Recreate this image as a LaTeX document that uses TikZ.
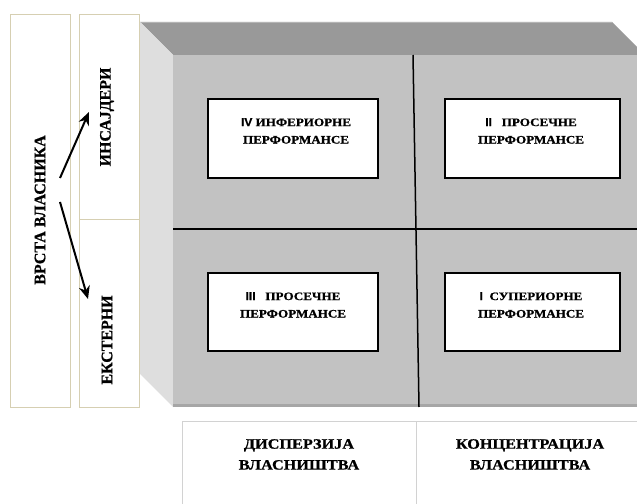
\documentclass[tikz,border=0pt]{standalone}
\usepackage{fontspec}
\setmainfont{Liberation Serif}
\newfontfamily\wideserif[UprightFont={Liberation Serif Bold}, FakeStretch=1.14, FakeBold=0.8]{Liberation Serif}
\newfontfamily\widesans[UprightFont={Liberation Sans Bold}, FakeStretch=1.05, FakeBold=0.6]{Liberation Sans}
\newfontfamily\boldserif[UprightFont={Liberation Serif Bold}, FakeBold=0.8]{Liberation Serif}
\usetikzlibrary{arrows.meta}
\definecolor{topface}{HTML}{999999}
\definecolor{topedge}{HTML}{B4B4B4}
\definecolor{sideface}{HTML}{DEDEDE}
\definecolor{frontface}{HTML}{C2C2C2}
\definecolor{shadowedge}{HTML}{A6A6A6}
\definecolor{panelline}{HTML}{D6CFB2}
\definecolor{tableline}{HTML}{D2D2D2}

\begin{document}
\begin{tikzpicture}[x=1bp,y=-1bp,
  panel/.style={draw=panelline, line width=1bp, fill=white},
  cell/.style={draw=tableline, line width=1bp, fill=white},
  quadbox/.style={draw=black, line width=1.6bp, fill=white},
  quadtext/.style={anchor=north, inner sep=0pt, align=center,
    font=\wideserif\fontsize{11.5}{17.5}\selectfont},
  sidetext/.style={rotate=90, inner sep=0pt,
    font=\boldserif\fontsize{16}{19}\selectfont},
  axistext/.style={anchor=north, inner sep=0pt, align=center,
    font=\wideserif\fontsize{14.3}{21}\selectfont},
  divider/.style={line width=1.5bp, black},
  pointer/.style={line width=2bp, -{Stealth[length=13bp, width=11bp]}}]

\useasboundingbox (0,0) rectangle (637,504);
\clip (0,0) rectangle (637,504);

% owner-type panels on the left
\draw[panel] (10,15) rectangle (70,407);
\draw[panel] (79,15) rectangle (139,407);
\draw[panelline, line width=1bp] (79,220) -- (139,220);
\node[sidetext] (owner) at (40,210) {ВРСТА ВЛАСНИКА};
\node[sidetext] (insider) at (107,117) {ИНСАЈДЕРИ};
\node[sidetext] (outsider) at (107,340) {ЕКСТЕРНИ};

\coordinate (fork1) at (60,178);
\coordinate (fork2) at (60,202);
\coordinate (tipin) at (89,112);
\coordinate (tipout) at (88,299);
\draw[pointer] (fork1) -- (tipin);
\draw[pointer] (fork2) -- (tipout);

% block: top, side and front faces
\fill[topface] (140,22) -- (612,22) -- (645,55) -- (173,55) -- cycle;
\draw[topedge, line width=1bp] (140,22.5) -- (612,22.5);
\fill[sideface] (140,22) -- (173,55) -- (173,407) -- (140,374) -- cycle;
\fill[frontface] (173,55) rectangle (645,407);
\fill[shadowedge] (173,404) rectangle (645,407);

% quadrant dividers
\coordinate (vtop) at (413,55);
\coordinate (vbot) at (419,407);
\coordinate (hleft) at (173,229);
\coordinate (hright) at (645,229);
\draw[divider] (vtop) -- (vbot);
\draw[divider] (hleft) -- (hright);

% quadrant boxes
\draw[quadbox] (208,99) rectangle (378,178);
\draw[quadbox] (445,99) rectangle (620,178);
\draw[quadbox] (208,273) rectangle (378,351);
\draw[quadbox] (445,273) rectangle (620,351);

\node[quadtext] (q4) at (296,118) {{\widesans IV} ИНФЕРИОРНЕ\\ПЕРФОРМАНСЕ};
\node[quadtext] (q2) at (531,118) {{\widesans II}\ \ \ ПРОСЕЧНЕ\\ПЕРФОРМАНСЕ};
\node[quadtext] (q3) at (293,292) {{\widesans III}\ \ \ ПРОСЕЧНЕ\\ПЕРФОРМАНСЕ};
\node[quadtext] (q1) at (531,292) {{\widesans I}\ \ СУПЕРИОРНЕ\\ПЕРФОРМАНСЕ};

% ownership concentration table
\draw[cell] (182,421) rectangle (416,520);
\draw[cell] (416,421) rectangle (650,520);
\node[axistext] (disp) at (299,439) {ДИСПЕРЗИЈА\\ВЛАСНИШТВА};
\node[axistext] (conc) at (530,439) {КОНЦЕНТРАЦИЈА\\ВЛАСНИШТВА};
\end{tikzpicture}
\end{document}
